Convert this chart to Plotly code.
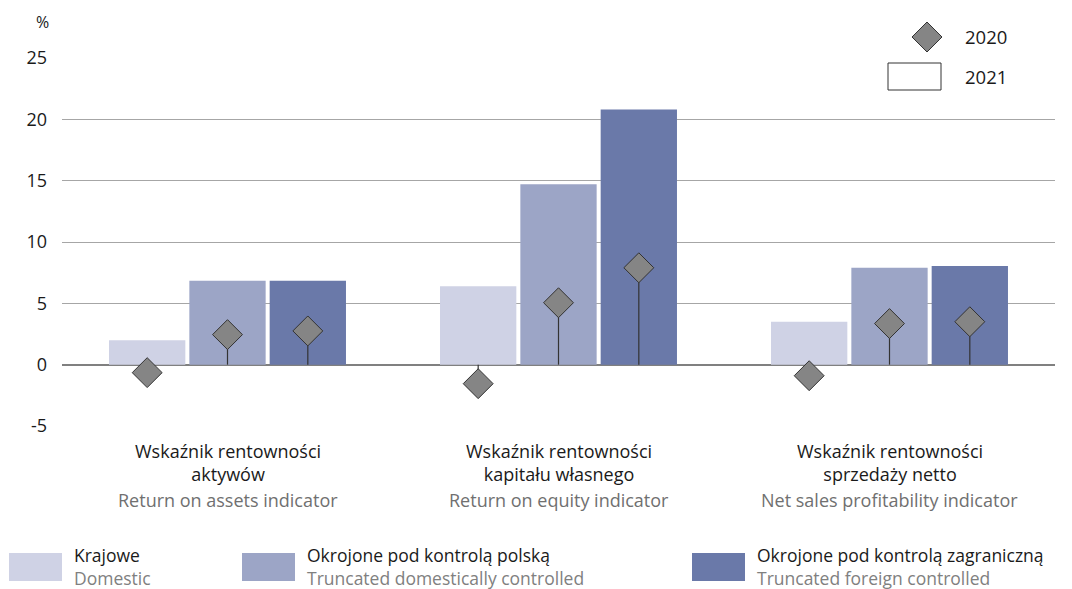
import plotly.graph_objects as go

categories = ["roa", "roe", "ros"]
categories_pl = ["Wskaźnik rentowności<br>aktywów",
                 "Wskaźnik rentowności<br>kapitału własnego",
                 "Wskaźnik rentowności<br>sprzedaży netto"]
categories_en = ["Return on assets indicator",
                 "Return on equity indicator",
                 "Net sales profitability indicator"]

series_pl = ["Krajowe", "Okrojone pod kontrolą polską", "Okrojone pod kontrolą zagraniczną"]
series_en = ["Domestic", "Truncated domestically controlled", "Truncated foreign controlled"]
series_colors = ["#CFD2E5", "#9CA5C6", "#6A79A9"]

values_2021 = [
    [2.0, 6.4, 3.5],
    [6.85, 14.7, 7.9],
    [6.85, 20.8, 8.05],
]
values_2020 = [
    [-0.65, -1.55, -0.9],
    [2.45, 5.05, 3.35],
    [2.75, 7.9, 3.5],
]

y_ticks = [-5, 0, 5, 10, 15, 20, 25]

FONT = "Open Sans"
OFF = 8  # default page body margin
W, H = 1072 - OFF, 589 - OFF
ML, MT = 62 - OFF, 58 - OFF
MR = W - (1055 - OFF)
MB = H - (426 - OFF)
PW, PH = W - ML - MR, H - MT - MB


def px(x):
    # window pixel -> paper fraction
    return (x - OFF - ML) / PW


def py(y):
    return (H - MB - (y - OFF)) / PH


fig = go.Figure()

for i in range(3):
    fig.add_trace(go.Bar(
        x=categories, y=values_2021[i], name=series_pl[i],
        marker=dict(color=series_colors[i], line=dict(width=0)),
        offsetgroup=str(i), showlegend=False, hoverinfo="y",
    ))

for i in range(3):
    v = values_2020[i]
    fig.add_trace(go.Scatter(
        x=categories, y=v, mode="markers", offsetgroup=str(i),
        marker=dict(symbol="diamond", size=23, color="#858585",
                    line=dict(color="#333333", width=1)),
        error_y=dict(type="data", symmetric=False,
                     array=[max(-a, 0) for a in v],
                     arrayminus=[max(a, 0) for a in v],
                     color="#333333", thickness=1.2, width=0),
        showlegend=False, hoverinfo="y", cliponaxis=False,
    ))

annotations = []
shapes = []

# category labels
for c, pl, en in zip(categories, categories_pl, categories_en):
    annotations.append(dict(x=c, xref="x", y=py(487), yref="paper", yanchor="bottom",
                            xanchor="center", text=pl, showarrow=False, borderpad=0,
                            font=dict(family=FONT, size=18, color="#1a1a1a")))
    annotations.append(dict(x=c, xref="x", y=py(500), yref="paper", yanchor="middle",
                            xanchor="center", text=en, showarrow=False, borderpad=0,
                            font=dict(family=FONT, size=18, color="#707070")))

# "%" label
annotations.append(dict(x=px(42), y=py(22), xref="paper", yref="paper",
                        xanchor="center", yanchor="middle",
                        text="%", showarrow=False,
                        font=dict(family=FONT, size=16, color="#1a1a1a")))

# top-right legend
shapes.append(dict(type="rect", xref="paper", yref="paper", layer="above",
                   x0=px(873), x1=px(1017), y0=py(100), y1=py(15),
                   fillcolor="white", line=dict(width=0)))
shapes.append(dict(type="path", xref="paper", yref="paper", layer="above",
                   xsizemode="pixel", ysizemode="pixel",
                   xanchor=px(927), yanchor=py(37),
                   path="M -15 0 L 0 15 L 15 0 L 0 -15 Z",
                   fillcolor="#858585", line=dict(color="#333333", width=1)))
shapes.append(dict(type="rect", xref="paper", yref="paper", layer="above",
                   x0=px(888), x1=px(941), y0=py(90), y1=py(63),
                   fillcolor="white", line=dict(color="#333333", width=1)))
for label, yy in [("2020", 37), ("2021", 77)]:
    annotations.append(dict(x=px(963), y=py(yy), xref="paper", yref="paper",
                            xanchor="left", yanchor="middle", text=label,
                            showarrow=False,
                            font=dict(family=FONT, size=18.5, color="#1a1a1a")))

# bottom legend
legend_x = [9, 242, 692]
for i in range(3):
    x0 = legend_x[i]
    shapes.append(dict(type="rect", xref="paper", yref="paper",
                       x0=px(x0), x1=px(x0 + 53), y0=py(581), y1=py(553),
                       fillcolor=series_colors[i], line=dict(width=0)))
    annotations.append(dict(x=px(x0 + 64), y=py(554.5), xref="paper", yref="paper",
                            xanchor="left", yanchor="middle", borderpad=0,
                            text=series_pl[i], showarrow=False,
                            font=dict(family=FONT, size=17.5, color="#1a1a1a")))
    annotations.append(dict(x=px(x0 + 64), y=py(577.5), xref="paper", yref="paper",
                            xanchor="left", yanchor="middle", borderpad=0,
                            text=series_en[i], showarrow=False,
                            font=dict(family=FONT, size=17.5, color="#808080")))

fig.update_layout(
    width=W, height=H,
    margin=dict(l=ML, r=MR, t=MT, b=MB, autoexpand=False),
    paper_bgcolor="white", plot_bgcolor="white",
    barmode="group", bargap=0.272, bargroupgap=0.05,
    scattermode="group", scattergap=0.272,
    showlegend=False,
    xaxis=dict(showticklabels=False, showgrid=False, zeroline=False,
               showline=False, ticks=""),
    yaxis=dict(range=[-5, 25], tickvals=y_ticks, ticktext=[str(t) for t in y_ticks],
               showgrid=True, gridcolor="#a6a6a6", gridwidth=1,
               zeroline=True, zerolinecolor="#808080", zerolinewidth=1.5,
               showline=False, ticks="", ticklabelstandoff=14,
               tickfont=dict(family=FONT, size=18, color="#1a1a1a")),
    annotations=annotations, shapes=shapes,
)

fig.write_html("out.html")
